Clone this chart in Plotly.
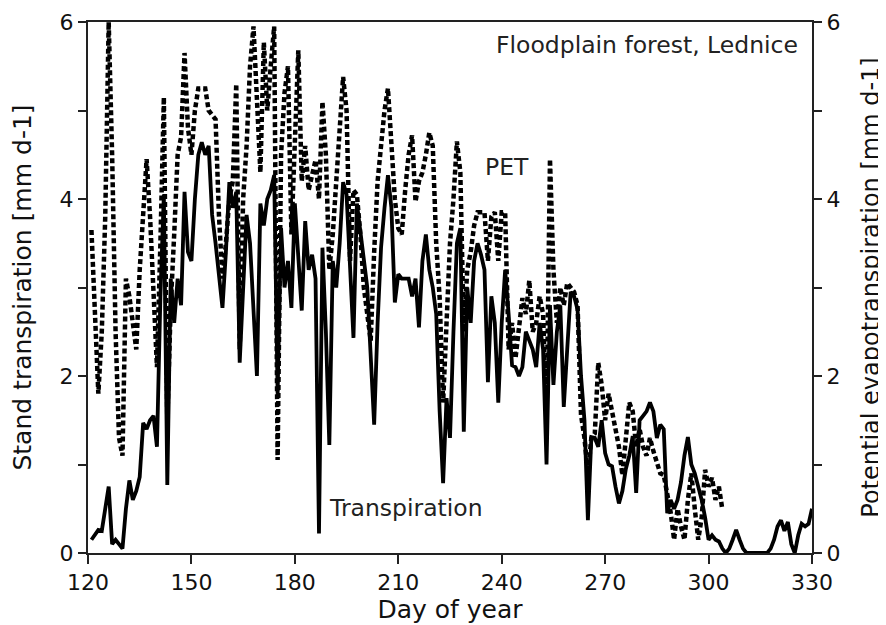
import plotly.graph_objects as go

# Transpiration (stand), daily values
t_days = list(range(121, 331))
t_vals = [
    0.15, 0.2, 0.26, 0.25, 0.5, 0.75, 0.1, 0.15, 0.1, 0.05,          # 121-130
    0.5, 0.82, 0.6, 0.7, 0.86, 1.47, 1.4, 1.5, 1.55, 1.2,            # 131-140
    2.9, 4.05, 0.77, 3.1, 2.6, 3.1, 2.8, 4.08, 3.4, 3.3,             # 141-150
    4.0, 4.5, 4.64, 4.5, 4.6, 3.82, 3.5, 3.14, 2.77, 3.4,            # 151-160
    4.19, 3.9, 4.08, 2.15, 3.0, 3.82, 3.5, 2.7, 2.0, 3.95,           # 161-170
    3.7, 4.0, 4.1, 4.27, 1.8, 3.67, 3.0, 3.3, 2.77, 3.95,            # 171-180
    3.3, 2.74, 3.75, 3.2, 3.37, 3.1, 0.22, 3.45, 2.5, 1.22,          # 181-190
    3.3, 3.0, 3.5, 4.19, 4.05, 3.2, 2.43, 3.95, 3.6, 3.32,           # 191-200
    3.0, 2.3, 1.45, 2.6, 3.45, 3.9, 4.27, 3.9, 2.83, 3.15,           # 201-210
    3.1, 3.1, 3.1, 2.9, 3.1, 2.55, 3.3, 3.6, 3.2, 3.0,               # 211-220
    2.7, 1.6, 0.79, 1.75, 1.3, 2.5, 3.5, 3.67, 1.37, 3.0,            # 221-230
    2.6, 3.3, 3.5, 3.37, 3.2, 1.93, 2.9, 2.6, 1.7, 2.6,              # 231-240
    3.2, 2.7, 2.12, 2.1, 2.0, 2.1, 2.5, 2.4, 2.3, 2.1,               # 241-250
    2.6, 2.3, 1.0, 2.8, 1.9, 2.5, 2.8, 1.65, 2.4, 2.95,              # 251-260
    2.9, 2.75, 2.0, 1.5, 0.37, 1.31, 1.3, 1.2, 1.5, 1.13,            # 261-270
    1.0, 0.98, 0.75, 0.56, 0.7, 0.95, 1.1, 1.32, 0.68, 1.5,          # 271-280
    1.55, 1.6, 1.7, 1.6, 1.3, 1.45, 1.4, 0.45, 0.6, 0.5,             # 281-290
    0.6, 0.8, 1.1, 1.31, 1.0, 0.9, 0.75, 0.6, 0.4, 0.15,             # 291-300
    0.2, 0.15, 0.13, 0.05, 0.0, 0.05, 0.15, 0.26, 0.15, 0.05,        # 301-310
    0.0, 0.0, 0.0, 0.0, 0.0, 0.0, 0.0, 0.05, 0.15, 0.3,              # 311-320
    0.37, 0.25, 0.35, 0.1, 0.0, 0.2, 0.33, 0.3, 0.33, 0.5,           # 321-330
]

# Potential evapotranspiration, daily values
pet_days = list(range(121, 305))
pet_vals = [
    3.65, 2.8, 1.8, 2.5, 3.8, 6.0, 4.5, 2.5, 1.3, 1.1,               # 121-130
    3.1, 2.9, 2.6, 2.3, 3.2, 3.9, 4.45, 3.8, 2.8, 2.1,               # 131-140
    3.5, 5.15, 1.5, 2.8, 3.6, 4.5, 4.7, 5.65, 4.8, 4.5,              # 141-150
    5.0, 5.25, 5.25, 5.25, 5.0, 4.95, 4.9, 3.8, 3.1, 3.5,            # 151-160
    4.0, 4.2, 5.3, 2.3, 4.0, 4.6, 5.5, 5.95, 5.0, 4.3,               # 161-170
    5.77, 5.0, 5.5, 5.95, 1.05, 4.5, 5.2, 5.5, 3.6, 4.8,             # 171-180
    5.68, 4.2, 4.6, 4.1, 4.3, 4.44, 4.0, 5.1, 4.5, 3.2,              # 181-190
    3.6, 4.2, 4.8, 5.38, 5.0, 3.3, 4.1, 4.05, 3.6, 3.0,              # 191-200
    2.7, 2.4, 3.4, 4.2, 4.6, 5.0, 5.25, 4.7, 4.0, 3.67,              # 201-210
    3.6, 4.1, 4.5, 4.72, 3.97, 4.2, 4.3, 4.5, 4.75, 4.6,             # 211-220
    3.5, 2.88, 1.7, 2.6, 3.5, 4.0, 4.65, 4.3, 2.5, 3.2,              # 221-230
    3.4, 3.7, 3.85, 3.85, 3.85, 3.3, 3.8, 3.85, 3.3, 3.85,           # 231-240
    3.85, 2.3, 2.6, 2.2, 2.6, 2.88, 2.7, 3.08, 2.5, 2.6,             # 241-250
    2.9, 2.7, 1.5, 4.45, 3.2, 2.6, 3.0, 2.8, 3.05, 3.0,              # 251-260
    2.95, 2.8, 1.56, 1.3, 0.9, 1.3, 1.35, 2.15, 1.9, 1.5,            # 261-270
    1.8, 1.6, 1.37, 1.2, 0.88, 1.3, 1.7, 1.6, 1.2, 1.4,              # 271-280
    1.2, 1.1, 1.3, 1.15, 1.0, 0.9, 0.88, 0.7, 0.46, 0.15,            # 281-290
    0.5, 0.3, 0.15, 0.6, 0.9, 0.5, 0.15, 0.4, 0.94, 0.75,            # 291-300
    0.85, 0.6, 0.75, 0.49,                                           # 301-304
]

x_ticks = [120, 150, 180, 210, 240, 270, 300, 330]
y_ticks = [0, 1, 2, 3, 4, 5, 6]
y_ticktext = ["0", "", "2", "", "4", "", "6"]

FONT = "DejaVu Sans, Verdana, sans-serif"
AX = "#222222"

fig = go.Figure()
fig.add_trace(go.Scatter(
    x=pet_days, y=pet_vals, mode="lines", yaxis="y2",
    line=dict(color="black", width=4.5, dash="5px,3px"),
    showlegend=False, name="PET"))
fig.add_trace(go.Scatter(
    x=t_days, y=t_vals, mode="lines",
    line=dict(color="black", width=3.8),
    showlegend=False, name="Transpiration"))

axis_common = dict(
    ticks="outside", tickwidth=1.5, tickcolor=AX, showline=True,
    linecolor=AX, linewidth=2, showgrid=False, zeroline=False,
    automargin=False,
    tickfont=dict(family=FONT, size=22, color="#111"))

fig.update_layout(
    width=878, height=617,
    margin=dict(l=80, r=74, t=14, b=72),
    paper_bgcolor="white", plot_bgcolor="white",
    font=dict(family=FONT, size=20, color="#111"),
    xaxis=dict(
        range=[120, 330], tickvals=x_ticks, ticklen=9, mirror=True,
        title=dict(text="Day of year", font=dict(size=25), standoff=4),
        **axis_common),
    yaxis=dict(
        range=[0, 6], tickvals=y_ticks, ticktext=y_ticktext, ticklen=8,
        title=dict(text="Stand transpiration [mm d-1]", font=dict(size=25), standoff=24),
        **axis_common),
    yaxis2=dict(
        range=[0, 6], tickvals=y_ticks, ticktext=y_ticktext, ticklen=8,
        overlaying="y", side="right",
        title=dict(text="Potential evapotranspiration [mm d-1]", font=dict(size=24), standoff=23),
        **axis_common),
    annotations=[
        dict(text="Floodplain forest, Lednice", x=326.6, y=5.74, xref="x", yref="y",
             xanchor="right", yanchor="middle", showarrow=False,
             font=dict(size=23.5, color="#222")),
        dict(text="PET", x=234.6, y=4.36, xref="x", yref="y",
             xanchor="left", yanchor="middle", showarrow=False,
             font=dict(size=23.5, color="#222")),
        dict(text="Transpiration", x=189.3, y=0.51, xref="x", yref="y",
             xanchor="left", yanchor="middle", showarrow=False,
             font=dict(size=23.5, color="#222")),
    ],
)

fig.write_html("out.html")
